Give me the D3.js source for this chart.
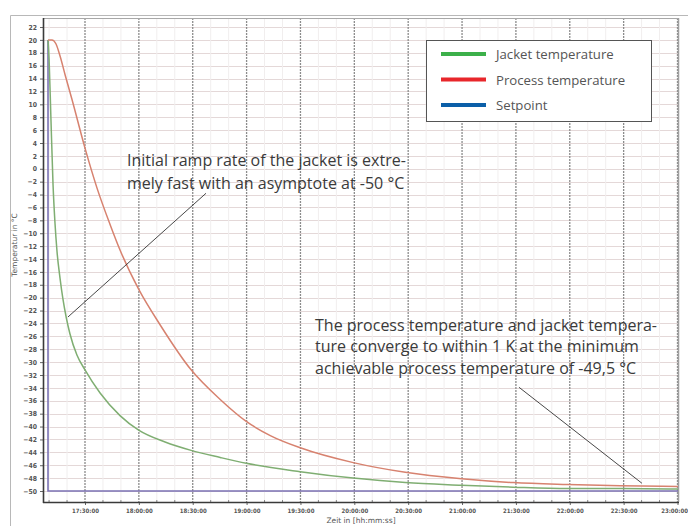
<!DOCTYPE html>
<html>
<head>
<meta charset="utf-8">
<script src="https://cdn.jsdelivr.net/npm/d3@7"></script>
<style>
  html, body { margin: 0; padding: 0; background: #fff; }
  svg { display: block; }
</style>
</head>
<body>
<svg id="chart" width="688" height="526"></svg>
<script>
// ---- data (time in minutes after 17:00, temperature in °C) ----
const jacketTime = [9.4, 10.0, 11.0, 12.2, 13.3, 14.4, 16.1, 17.7, 19.5, 21.6, 25.5, 30.0, 38.4, 49.5, 60.1, 74.6, 89.1, 105.3, 119.8, 149.9, 179.4, 208.4, 239.7, 268.6, 298.8, 328.3, 360.3];
const jacketTemp = [20.0, 17.0, 8.0, -2.5, -8.5, -12.8, -17.0, -20.2, -23.0, -25.6, -28.9, -31.2, -34.8, -38.3, -40.6, -42.4, -43.7, -44.8, -45.7, -47.0, -48.0, -48.7, -49.1, -49.4, -49.6, -49.6, -49.7];

const processTime = [9.4, 11.6, 13.8, 16.1, 18.9, 22.8, 30.0, 36.7, 43.9, 49.5, 60.1, 71.8, 89.1, 105.3, 119.8, 133.2, 149.9, 179.4, 208.4, 239.7, 268.6, 298.8, 328.3, 360.3];
const processTemp = [20.0, 20.0, 19.4, 17.5, 14.6, 10.7, 3.2, -3.0, -8.6, -12.6, -18.8, -24.2, -31.2, -35.8, -39.2, -41.4, -43.3, -45.6, -47.1, -48.1, -48.7, -49.0, -49.2, -49.3];

const setpointTime = [9.4, 9.4, 360.3];
const setpointTemp = [20, -50, -50];

const yTicks = d3.range(22, -51, -2);
const xTickMinutes = [30, 60, 90, 120, 150, 180, 210, 240, 270, 300, 330, 360];
const xTickLabels = ["17:30:00", "18:00:00", "18:30:00", "19:00:00", "19:30:00", "20:00:00",
                     "20:30:00", "21:00:00", "21:30:00", "22:00:00", "22:30:00", "23:00:00"];

const legendLabels = ["Jacket temperature", "Process temperature", "Setpoint"];
const legendColors = ["#3cb04a", "#e8262b", "#0b5fa8"];

const note1 = ["Initial ramp rate of the jacket is extre-", "mely fast with an asymptote at -50 °C"];
const note2 = ["The process temperature and jacket tempera-", "ture converge to within 1 K at the minimum", "achievable process temperature of -49,5 °C"];
// pointer anchors in data units [minutes, °C]
const pointer1 = [[97.4, -3.8], [20.5, -23.0]];
const pointer2 = [[271.7, -33.9], [340.2, -48.8]];

// ---- layout ----
const svg = d3.select("#chart");
const plot = { left: 43, right: 678, top: 18, bottom: 502 };

const x = d3.scaleLinear().domain([30, 360]).range([85, 677.5]);
const y = d3.scaleLinear().domain([-50, 22]).range([491, 27]);

// outer screenshot frame
svg.append("path")
  .attr("d", `M10.5,526 V15.5 H688`)
  .attr("fill", "none").attr("stroke", "#b8b8b8").attr("stroke-width", 1);

// horizontal grid
svg.append("g").selectAll("line").data(yTicks).join("line")
  .attr("x1", plot.left).attr("x2", plot.right)
  .attr("y1", d => Math.round(y(d)) + 0.5).attr("y2", d => Math.round(y(d)) + 0.5)
  .attr("stroke", "#e4d8d8").attr("stroke-width", 1.2);

// minor vertical grid (10 min)
const minorX = d3.range(10, 361, 10).filter(m => m % 30 !== 0);
svg.append("g").selectAll("line").data(minorX).join("line")
  .attr("x1", d => x(d)).attr("x2", d => x(d))
  .attr("y1", plot.top).attr("y2", plot.bottom)
  .attr("stroke", "#f1eeee").attr("stroke-width", 1);

// major vertical grid
svg.append("g").selectAll("line").data(xTickMinutes).join("line")
  .attr("x1", d => x(d)).attr("x2", d => x(d))
  .attr("y1", plot.top).attr("y2", plot.bottom)
  .attr("stroke", "#8c8c8c").attr("stroke-width", 1.3)
  .attr("stroke-dasharray", "2,1");

// plot frame (top & right light)
svg.append("line").attr("x1", plot.left).attr("x2", plot.right)
  .attr("y1", plot.top + 0.5).attr("y2", plot.top + 0.5)
  .attr("stroke", "#a8a8a8");
svg.append("line").attr("x1", plot.right + 0.5).attr("x2", plot.right + 0.5)
  .attr("y1", plot.top).attr("y2", plot.bottom)
  .attr("stroke", "#a0a0a0").attr("stroke-width", 1.5);

// curves
const line = d3.line().x(d => x(d[0])).y(d => y(d[1]));
const smooth = d3.line().x(d => x(d[0])).y(d => y(d[1])).curve(d3.curveMonotoneX);

svg.append("path")
  .datum(setpointTime.map((t, i) => [t, setpointTemp[i]]))
  .attr("d", line).attr("fill", "none")
  .attr("stroke", "#7b72b4").attr("stroke-width", 1.6);

svg.append("path")
  .datum(jacketTime.map((t, i) => [t, jacketTemp[i]]))
  .attr("d", smooth).attr("fill", "none")
  .attr("stroke", "#7fae72").attr("stroke-width", 1.5);

svg.append("path")
  .datum(processTime.map((t, i) => [t, processTemp[i]]))
  .attr("d", smooth).attr("fill", "none")
  .attr("stroke", "#d7826f").attr("stroke-width", 1.5);

// axes
const yAxis = d3.axisLeft(y).tickValues(yTicks).tickSize(3).tickFormat(d3.format("d"));
const gy = svg.append("g").attr("transform", `translate(${plot.left},0)`).call(yAxis);
gy.select(".domain").remove();
gy.selectAll("line").attr("stroke", "#666");
gy.selectAll("text")
  .attr("font-family", "DejaVu Sans Condensed, DejaVu Sans, sans-serif")
  .attr("font-size", 6.8).attr("font-weight", "bold").attr("fill", "#555");

const xAxis = d3.axisBottom(x).tickValues(xTickMinutes).tickSize(3)
  .tickFormat((d, i) => xTickLabels[i]);
const gx = svg.append("g").attr("transform", `translate(0,${plot.bottom})`).call(xAxis);
gx.select(".domain").remove();
gx.selectAll("line").attr("stroke", "#666");
gx.selectAll("text")
  .attr("font-family", "DejaVu Sans Condensed, DejaVu Sans, sans-serif")
  .attr("font-size", 6).attr("font-weight", "bold").attr("fill", "#555").attr("dy", "0.9em");
// keep the last label inside the picture
gx.selectAll(".tick").filter((d, i, n) => i === n.length - 1).select("text")
  .attr("text-anchor", "end").attr("x", 10);

// minor ticks on x axis
svg.append("g").selectAll("line").data(minorX).join("line")
  .attr("x1", d => x(d)).attr("x2", d => x(d))
  .attr("y1", plot.bottom - 2).attr("y2", plot.bottom + 1)
  .attr("stroke", "#888");

// axis lines (dark)
svg.append("line").attr("x1", plot.left + 0.5).attr("x2", plot.left + 0.5)
  .attr("y1", plot.top).attr("y2", plot.bottom + 1)
  .attr("stroke", "#3a3a3a").attr("stroke-width", 1.6);
svg.append("line").attr("x1", plot.left).attr("x2", plot.right + 1)
  .attr("y1", plot.bottom + 0.5).attr("y2", plot.bottom + 0.5)
  .attr("stroke", "#3a3a3a").attr("stroke-width", 1.6);

// axis titles
svg.append("text")
  .attr("transform", "translate(17,245) rotate(-90)")
  .attr("text-anchor", "middle")
  .attr("font-family", "DejaVu Sans, sans-serif").attr("font-size", 7.5)
  .attr("fill", "#555").text("Temperatur in °C");
svg.append("text")
  .attr("x", 361).attr("y", 523).attr("text-anchor", "middle")
  .attr("font-family", "DejaVu Sans, sans-serif").attr("font-size", 7.5)
  .attr("fill", "#555").text("Zeit in [hh:mm:ss]");

// legend
const lg = svg.append("g");
lg.append("rect").attr("x", 426.5).attr("y", 40.5).attr("width", 225).attr("height", 81)
  .attr("fill", "#fff").attr("stroke", "#555").attr("stroke-width", 1);
legendLabels.forEach((lab, i) => {
  const yy = 54 + i * 25.5;
  lg.append("line").attr("x1", 441).attr("x2", 486).attr("y1", yy).attr("y2", yy)
    .attr("stroke", legendColors[i]).attr("stroke-width", 4);
  lg.append("text").attr("x", 496).attr("y", yy + 5)
    .attr("font-family", "Open Sans, sans-serif").attr("font-size", 13.2)
    .attr("fill", "#555").text(lab);
});

// annotations
const noteFont = "Open Sans, sans-serif";
note1.forEach((t, i) => {
  svg.append("text").attr("x", 127).attr("y", 166 + i * 23)
    .attr("font-family", noteFont).attr("font-size", 16)
    .attr("fill", "#3a3a3a").text(t);
});
note2.forEach((t, i) => {
  svg.append("text").attr("x", 315).attr("y", 331 + i * 21.3)
    .attr("font-family", noteFont).attr("font-size", 16)
    .attr("fill", "#3a3a3a").text(t);
});
[pointer1, pointer2].forEach(p => {
  svg.append("line")
    .attr("x1", x(p[0][0])).attr("y1", y(p[0][1]))
    .attr("x2", x(p[1][0])).attr("y2", y(p[1][1]))
    .attr("stroke", "#333").attr("stroke-width", 0.9);
});
</script>
</body>
</html>
